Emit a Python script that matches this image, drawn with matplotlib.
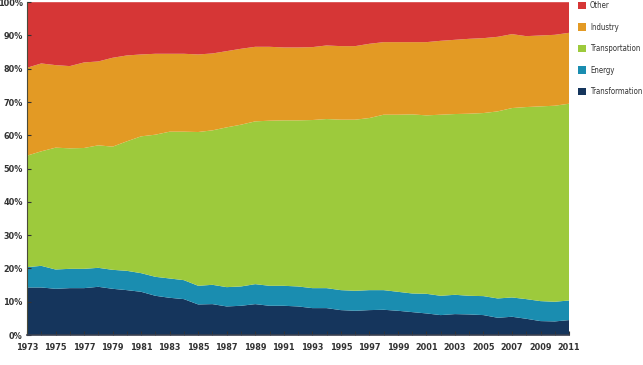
import matplotlib
matplotlib.use("Agg")
import matplotlib.pyplot as plt
import numpy as np

# share of final consumption by sector, %
years = list(range(1973, 2012))
transformation = [14.3, 14.3, 13.9, 14.1, 14.1, 14.5, 13.9, 13.5, 13.0, 11.8, 11.2, 10.8, 9.2, 9.3,
                  8.6, 8.8, 9.3, 8.8, 8.8, 8.6, 8.1, 8.1, 7.5, 7.3, 7.5, 7.6, 7.3, 6.9,
                  6.5, 6.0, 6.3, 6.2, 6.0, 5.2, 5.5, 4.9, 4.2, 4.1, 4.5]
energy = [6.1, 6.5, 5.8, 5.8, 5.8, 5.7, 5.7, 5.8, 5.6, 5.7, 5.8, 5.7, 5.6, 5.8,
          5.8, 5.8, 6.0, 6.0, 6.0, 6.0, 6.0, 6.0, 6.0, 6.0, 6.0, 5.9, 5.7, 5.6,
          5.9, 5.8, 5.8, 5.6, 5.7, 5.8, 5.8, 5.9, 6.0, 5.9, 5.9]
transportation = [33.5, 34.4, 36.6, 36.2, 36.3, 36.8, 37.0, 38.9, 41.1, 42.7, 44.1, 44.6, 46.2, 46.4,
                  48.0, 48.6, 48.9, 49.6, 49.7, 49.9, 50.5, 50.8, 51.2, 51.4, 51.7, 52.7, 53.2, 53.8,
                  53.6, 54.4, 54.3, 54.7, 55.0, 56.2, 56.9, 57.7, 58.5, 58.9, 59.1]
industry = [26.4, 26.4, 24.8, 24.7, 25.7, 25.2, 26.7, 25.8, 24.6, 24.3, 23.4, 23.4, 23.3, 23.1,
            22.9, 22.8, 22.4, 22.2, 21.9, 21.9, 21.9, 22.1, 22.1, 22.1, 22.3, 21.8, 21.8, 21.7,
            22.0, 22.2, 22.3, 22.5, 22.5, 22.4, 22.2, 21.3, 21.3, 21.3, 21.3]
other = [19.7, 18.4, 18.9, 19.2, 18.1, 17.8, 16.7, 16.0, 15.7, 15.5, 15.5, 15.5, 15.7, 15.4,
         14.7, 14.0, 13.4, 13.4, 13.6, 13.6, 13.5, 13.0, 13.2, 13.2, 12.5, 12.0, 12.0, 12.0,
         12.0, 11.6, 11.3, 11.0, 10.8, 10.4, 9.6, 10.2, 10.0, 9.8, 9.2]

labels = ["Transformation", "Energy", "Transportation", "Industry", "Other"]
colors = ["#15355c", "#1a8db0", "#9dca3c", "#e39a24", "#d63636"]

plt.rcParams['font.family'] = ['DejaVu Sans']
plt.rcParams['font.stretch'] = 'condensed'

fig = plt.figure(figsize=(6.43, 3.65), dpi=100)
ax = fig.add_axes([0.042, 0.082, 0.843, 0.912])

polys = ax.stackplot(years, transformation, energy, transportation, industry, other,
                     colors=colors, labels=labels, linewidth=0)

ax.set_xlim(1973, 2011)
ax.set_ylim(0, 100)
ax.set_xticks(range(1973, 2012, 2))
ax.set_xticks(range(1973, 2012), minor=True)
ax.set_yticks(range(0, 101, 10))
ax.set_yticklabels([f"{v}%" for v in range(0, 101, 10)])

for s in ["top", "right"]:
    ax.spines[s].set_visible(False)
ax.spines["left"].set_color("#4a4a3a")
ax.spines["bottom"].set_color("#3a4050")
ax.spines["bottom"].set_linewidth(1.2)
ax.tick_params(axis="x", which="both", direction="in", length=3, color="#333333",
               labelsize=6.5, labelcolor="#333333", pad=6)
ax.tick_params(axis="y", direction="in", length=3, color="#333333",
               labelsize=6.5, labelcolor="#333333", pad=3)
for t in ax.get_xticklabels() + ax.get_yticklabels():
    t.set_fontweight("bold")
    t.set_fontstretch("condensed")

handles = polys[::-1]
leg = ax.legend(handles, labels[::-1], loc="upper left", bbox_to_anchor=(1.01, 1.012),
                frameon=False, fontsize=5.6, handlelength=1.1, handleheight=1.1,
                handletextpad=0.5, labelspacing=1.6, borderaxespad=0)
for t in leg.get_texts():
    t.set_color("#333333")
    t.set_fontstretch("condensed")

fig.savefig("out.png", dpi=100)
